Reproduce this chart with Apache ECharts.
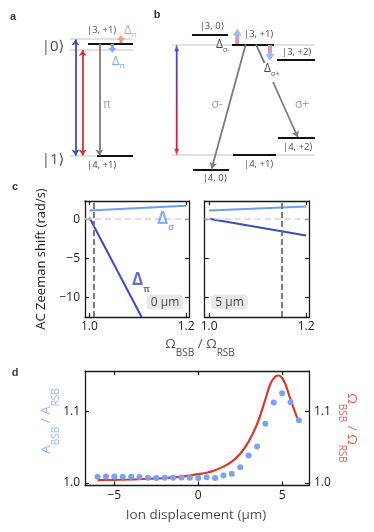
<!DOCTYPE html>
<html><head><meta charset="utf-8">
<script src="https://cdn.jsdelivr.net/npm/echarts@6/dist/echarts.min.js"></script>
<style>html,body{margin:0;padding:0;background:#fff}#c{width:374px;height:532px}</style>
</head><body><div id="c"></div>
<script>
// ---------------- panel c data ----------------
const cXRange = [0.991, 1.206];
const cYRange = [-12.45, 2.3];
const cXTicks = [1.0, 1.2];
const cYTicks = [0, -5, -10];
const deltaSigma0 = [[1.0, 1.1], [1.2, 1.7]];
const deltaPi0 = [[1.0, 0.2], [1.108, -12.45]];
const deltaSigma5 = [[1.0, 1.1], [1.2, 1.6]];
const deltaPi5 = [[1.0, 0.05], [1.2, -2.1]];
const ratioMarker0 = 1.013;
const ratioMarker5 = 1.147;

// ---------------- panel d data ----------------
const dXRange = [-6.75, 6.6];
const dYRange = [0.9966, 1.1568];
const dXTicks = [-5, 0, 5];
const dYTicks = [1.0, 1.1];
const displacement = [-6, -5.5, -5, -4.5, -4, -3.5, -3, -2.5, -2, -1.5, -1, -0.5, 0, 0.5, 1, 1.5, 2, 2.5, 3, 3.5, 4, 4.5, 5, 5.5, 6];
const ampRatio = [1.0088, 1.0093, 1.0093, 1.0088, 1.0088, 1.0084, 1.0074, 1.007, 1.0074, 1.0074, 1.0079, 1.0074, 1.007, 1.008, 1.007, 1.0106, 1.013, 1.022, 1.0386, 1.051, 1.083, 1.1126, 1.1257, 1.113, 1.088];
const rabiX = [-6, -5, -4, -3, -2, -1, 0, 0.5, 1, 1.5, 2, 2.5, 3, 3.5, 4, 4.3, 4.6, 4.8, 5.0, 5.2, 5.5, 5.9];
const rabiRatio = [1.004, 1.0045, 1.005, 1.006, 1.007, 1.009, 1.0125, 1.0145, 1.018, 1.023, 1.03, 1.041, 1.058, 1.082, 1.117, 1.139, 1.149, 1.1505, 1.147, 1.138, 1.117, 1.091];

// ---------------- level diagrams (a, b) in overlay frame units ----------------
const guideLevels = [[70, 133, 38.5], [70, 133, 49.5], [70, 133, 156], [172, 315, 45], [172, 315, 155]];
const stateLevels = [[88, 133, 43.3], [97, 133, 156], [192, 228, 34.3], [232, 274, 44.3], [277, 315, 60], [233, 276, 155], [193, 229, 169.3], [278, 315, 137.7]];
const transitions = [[[99.3, 43.3], [99.3, 155.5]], [[245.7, 44.5], [211.7, 168.5]], [[273, 82], [297.7, 137]]];
const transitionStub = [[[256, 44.5], [264.5, 63]]];
const laserBlue = [[75.5, 39.5], [75.5, 155.5]];
const laserRed = [[82.7, 50], [82.7, 155.5]];
// [text, x, y, align, rotation]
const diagramTexts = [
  ['{k|a}', 13, 17, 'center', 0], ['{big||0⟩}', 53, 47, 'center', 0], ['{big||1⟩}', 53, 160, 'center', 0],
  ['{ket||3, +1⟩}', 102, 30, 'center', 0], ['{ket||4, +1⟩}', 102, 165, 'center', 0], ['{g|π}', 107, 105, 'center', 0],
  ['{dR|Δ}{sR|π}', 124, 30, 'left', 0], ['{dB|Δ}{sB|π}', 112, 61, 'left', 0],
  ['{k|b}', 157, 15, 'center', 0], ['{ket||3, 0⟩}', 212, 26, 'center', 0], ['{ket||3, +1⟩}', 259, 34, 'center', 0],
  ['{ket||3, +2⟩}', 297, 52, 'center', 0], ['{ket||4, +2⟩}', 298, 147, 'center', 0], ['{ket||4, +1⟩}', 259, 164, 'center', 0],
  ['{ket||4, 0⟩}', 215, 178, 'center', 0], ['{dK|Δ}{sK|σ-}', 216, 45, 'left', 0], ['{dK|Δ}{sK|σ+}', 264, 69, 'left', 0],
  ['{g|σ-}', 217, 105, 'center', 0], ['{g|σ+}', 302, 105, 'center', 0],
  ['{k|c}', 15, 187, 'center', 0], ['{DS|Δ}{sS|σ}', 157, 219, 'left', 0], ['{DP|Δ}{sP|π}', 132, 280, 'left', 0],
  ['{box|0 μm}', 165, 302, 'center', 0], ['{box|5 μm}', 229.5, 302, 'center', 0],
  ['{t|Ω}{ts|BSB}{t| / Ω}{ts|RSB}', 200, 344, 'center', 0],
  ['{k|d}', 15, 373, 'center', 0], ['{t|Ion displacement (μm)}', 196, 515, 'center', 0],
  ['{ab|A}{abs|BSB}{ab| / A}{abs|RSB}', 46.5, 421, 'center', 90],
  ['{om|Ω}{oms|BSB}{om| / Ω}{oms|RSB}', 351.5, 428, 'center', -90]
];

const FONT = '"Open Sans", "DejaVu Sans", sans-serif';
const INK = '#1a1a1a';
const BLUE = '#3a4cc0', LBLUE = '#6d9cf2', RED = '#d23c2e', DOT = '#7ba2f2';
const minus = v => String(v).replace('-', '−');
const G = echarts.graphic;

function xAx(grid, range, ticks, pos, showLab, fmt) {
  return { gridIndex: grid, type: 'value', min: range[0], max: range[1], position: pos,
    axisLine: { show: true, onZero: false, lineStyle: { color: INK, width: 1.3 } },
    axisTick: { show: true, inside: true, length: 4, customValues: ticks, lineStyle: { color: INK, width: 1.2 } },
    axisLabel: { show: showLab, customValues: ticks, formatter: fmt, color: INK, fontSize: 12, fontFamily: FONT, margin: 4 },
    splitLine: { show: false } };
}
function yAx(grid, range, ticks, pos, showLab, fmt, extra) {
  return Object.assign({ gridIndex: grid, type: 'value', min: range[0], max: range[1], position: pos,
    axisLine: { show: true, onZero: false, lineStyle: { color: INK, width: 1.3 } },
    axisTick: { show: true, inside: true, length: 4, customValues: ticks, lineStyle: { color: INK, width: 1.2 } },
    axisLabel: { show: showLab, customValues: ticks, formatter: fmt, color: INK, fontSize: 12, fontFamily: FONT, margin: 5 },
    splitLine: { show: false } }, extra || {});
}
const f1 = v => v.toFixed(1);
const fm = v => minus(v);

const seg = l => ({ coords: [[l[0], l[2]], [l[1], l[2]]] });
function shaft(pts, colorTop, colorBottom, width) {
  return { type: 'line', xAxisIndex: 0, yAxisIndex: 0, data: pts, symbol: 'none', silent: true, z: 5,
    lineStyle: { width: width, color: colorTop === colorBottom ? colorTop :
      new G.LinearGradient(0, 0, 0, 1, [{ offset: 0, color: colorTop }, { offset: 1, color: colorBottom }]) } };
}
// arrow heads: [x, yCenter, w, h, rotation, color]
const heads = [[176.7, 47.8, 5, 7, 0, '#3b4cc0'], [176.7, 152.2, 5, 7, 180, '#e0192d'],
  [237.3, 32, 9, 7, 0, '#88a9f2'], [270, 57.5, 9, 7, 180, '#88a9f2'],
  [121, 37.6, 8, 5, 0, '#f28e6e'], [112.3, 50.6, 8, 5, 180, '#6e9ef2']];

const option = {
  animation: false,
  textStyle: { fontFamily: FONT },
  grid: [
    { left: 0, top: 0, width: 374, height: 532 },
    { left: 85, top: 201, width: 104, height: 116 },
    { left: 204.7, top: 201, width: 104.3, height: 116 },
    { left: 85, top: 371, width: 224, height: 114.5 }
  ],
  xAxis: [
    { gridIndex: 0, type: 'value', min: 0, max: 374, show: false },
    xAx(1, cXRange, cXTicks, 'bottom', true, f1), xAx(1, cXRange, cXTicks, 'top', false, f1),
    xAx(2, cXRange, cXTicks, 'bottom', true, f1), xAx(2, cXRange, cXTicks, 'top', false, f1),
    xAx(3, dXRange, dXTicks, 'bottom', true, fm), xAx(3, dXRange, dXTicks, 'top', false, fm)
  ],
  yAxis: [
    { gridIndex: 0, type: 'value', min: 0, max: 532, inverse: true, show: false },
    yAx(1, cYRange, cYTicks, 'left', true, fm, { name: 'AC Zeeman shift (rad/s)', nameLocation: 'middle', nameGap: 37,
      nameTextStyle: { fontSize: 13, color: INK, fontFamily: FONT } }),
    yAx(1, cYRange, cYTicks, 'right', false, fm),
    yAx(2, cYRange, cYTicks, 'left', false, fm),
    yAx(2, cYRange, cYTicks, 'right', false, fm),
    yAx(3, dYRange, dYTicks, 'left', true, f1),
    yAx(3, dYRange, dYTicks, 'right', true, f1)
  ],
  series: [
    // ---- level diagrams ----
    { type: 'lines', coordinateSystem: 'cartesian2d', xAxisIndex: 0, yAxisIndex: 0, silent: true, z: 2,
      data: guideLevels.map(seg), lineStyle: { color: '#d9d9d9', width: 1.6, opacity: 1 } },
    { type: 'lines', coordinateSystem: 'cartesian2d', xAxisIndex: 0, yAxisIndex: 0, silent: true, z: 3,
      data: stateLevels.map(seg), lineStyle: { color: '#111', width: 2, opacity: 1 } },
    { type: 'lines', coordinateSystem: 'cartesian2d', xAxisIndex: 0, yAxisIndex: 0, silent: true, z: 4,
      data: transitions.map(c => ({ coords: c })), symbol: ['none', 'arrow'], symbolSize: 6,
      lineStyle: { color: '#7a7a7a', width: 1.8, opacity: 1 } },
    { type: 'lines', coordinateSystem: 'cartesian2d', xAxisIndex: 0, yAxisIndex: 0, silent: true, z: 4,
      data: transitionStub.map(c => ({ coords: c })), lineStyle: { color: '#7a7a7a', width: 1.8, opacity: 1 } },
    { type: 'lines', coordinateSystem: 'cartesian2d', xAxisIndex: 0, yAxisIndex: 0, silent: true, z: 4,
      data: [{ coords: laserBlue, lineStyle: { color: BLUE } }, { coords: laserRed, lineStyle: { color: '#d9302f' } }],
      symbol: ['arrow', 'arrow'], symbolSize: 6, lineStyle: { width: 1.8, opacity: 1 } },
    shaft([[176.7, 49], [176.7, 151]], '#3b4cc0', '#e0192d', 1.8),
    shaft([[237.3, 44], [237.3, 35]], '#a9b9f0', '#e8857c', 4),
    shaft([[270, 45], [270, 54]], '#e8857c', '#a9b9f0', 4),
    shaft([[121, 43], [121, 39.5]], '#f28e6e', '#f28e6e', 3),
    shaft([[112.3, 43.5], [112.3, 48.5]], '#6e9ef2', '#6e9ef2', 3),
    { type: 'scatter', xAxisIndex: 0, yAxisIndex: 0, silent: true, z: 6,
      data: heads.map(h => ({ value: [h[0], h[1]], symbolSize: [h[2], h[3]], symbolRotate: h[4], itemStyle: { color: h[5] } })),
      symbol: 'triangle' },
    { type: 'scatter', xAxisIndex: 0, yAxisIndex: 0, silent: true, z: 10, symbolSize: 0,
      data: diagramTexts.map(t => ({ value: [t[1], t[2]], txt: t[0], label: { align: t[3], rotate: t[4] } })),
      label: { show: true, position: 'inside', verticalAlign: 'middle', formatter: p => p.data.txt,
        rich: {
          k: { fontFamily: '"Liberation Sans", Arial, sans-serif', fontWeight: 'bold', fontSize: 11, color: '#000' },
          big: { fontSize: 15, color: INK, fontFamily: FONT },
          ket: { fontSize: 9.5, color: INK, fontFamily: FONT },
          g: { fontSize: 12, color: '#8a8a8a', fontFamily: FONT },
          dR: { fontSize: 13, color: '#f08a6c', fontFamily: FONT }, sR: { fontSize: 8, color: '#f08a6c', padding: [10, 0, 0, 0], fontFamily: FONT },
          dB: { fontSize: 13, color: '#5f8ff0', fontFamily: FONT }, sB: { fontSize: 8, color: '#5f8ff0', padding: [10, 0, 0, 0], fontFamily: FONT },
          dK: { fontSize: 12, color: INK, fontFamily: FONT }, sK: { fontSize: 7, color: INK, padding: [10, 0, 0, 0], fontFamily: FONT },
          DS: { fontSize: 17, fontWeight: 'bold', color: LBLUE, fontFamily: FONT }, sS: { fontSize: 9, fontWeight: 'bold', color: LBLUE, padding: [17, 0, 0, 0], fontFamily: FONT },
          DP: { fontSize: 17, fontWeight: 'bold', color: BLUE, fontFamily: FONT }, sP: { fontSize: 9, fontWeight: 'bold', color: BLUE, padding: [18, 0, 0, 0], fontFamily: FONT },
          t: { fontSize: 13.5, color: INK, fontFamily: FONT }, ts: { fontSize: 10, color: INK, padding: [18, 0, 0, 0], fontFamily: FONT },
          ab: { fontSize: 13.5, color: DOT, fontFamily: FONT }, abs: { fontSize: 10, color: DOT, padding: [19, 0, 0, 0], fontFamily: FONT },
          om: { fontSize: 13.5, color: RED, fontFamily: FONT }, oms: { fontSize: 10, color: RED, padding: [19, 0, 0, 0], fontFamily: FONT },
          box: { fontSize: 12, color: INK, backgroundColor: '#e2e2e2', borderRadius: 4, padding: [2, 4, 1, 4], fontFamily: FONT }
        } } },
    // ---- panel c, 0 um ----
    { type: 'line', xAxisIndex: 1, yAxisIndex: 1, data: deltaSigma0, symbol: 'none', lineStyle: { color: LBLUE, width: 2 }, z: 3,
      markLine: { silent: true, symbol: 'none', label: { show: false }, animation: false,
        data: [{ yAxis: 0, lineStyle: { color: '#d3d3d3', type: [6, 4], width: 1.5 } },
               { xAxis: ratioMarker0, lineStyle: { color: '#707070', type: [6, 3], width: 1.8 } }] } },
    { type: 'line', xAxisIndex: 1, yAxisIndex: 1, data: deltaPi0, symbol: 'none', lineStyle: { color: BLUE, width: 2 }, z: 3 },
    // ---- panel c, 5 um ----
    { type: 'line', xAxisIndex: 3, yAxisIndex: 3, data: deltaSigma5, symbol: 'none', lineStyle: { color: LBLUE, width: 2 }, z: 3,
      markLine: { silent: true, symbol: 'none', label: { show: false }, animation: false,
        data: [{ yAxis: 0, lineStyle: { color: '#d3d3d3', type: [6, 4], width: 1.5 } },
               { xAxis: ratioMarker5, lineStyle: { color: '#707070', type: [6, 3], width: 1.8 } }] } },
    { type: 'line', xAxisIndex: 3, yAxisIndex: 3, data: deltaPi5, symbol: 'none', lineStyle: { color: BLUE, width: 2 }, z: 3 },
    // ---- panel d ----
    { type: 'line', xAxisIndex: 5, yAxisIndex: 5, data: rabiX.map((x, i) => [x, rabiRatio[i]]), symbol: 'none', smooth: 0.3,
      lineStyle: { color: RED, width: 2.2 }, z: 3 },
    { type: 'scatter', xAxisIndex: 5, yAxisIndex: 5, data: displacement.map((x, i) => [x, ampRatio[i]]), symbolSize: 6,
      itemStyle: { color: DOT, opacity: 1 }, z: 4 }
  ]
};
const chart = echarts.init(document.getElementById('c'));
chart.setOption(option);
</script></body></html>
